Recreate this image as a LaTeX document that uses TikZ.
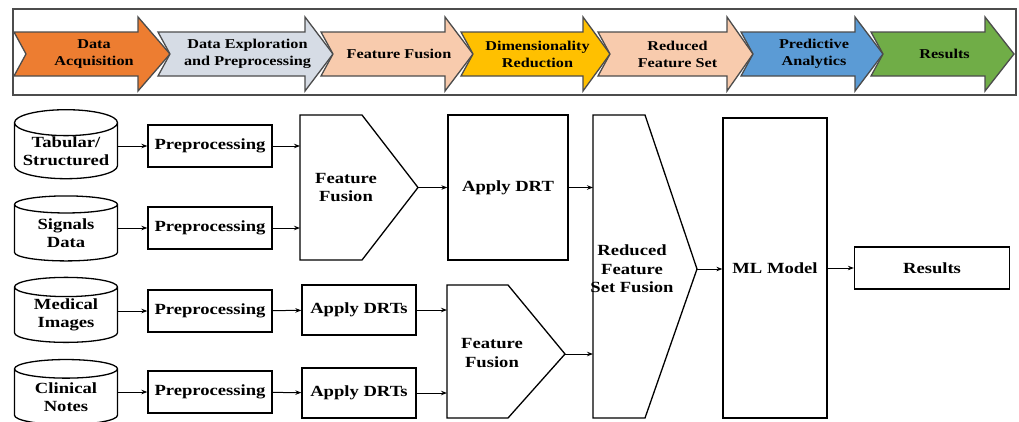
\documentclass[tikz,border=0pt]{standalone}
\usepackage{fontspec}
\setmainfont{Liberation Serif}[FakeStretch=1.2]
\usetikzlibrary{shapes.geometric, arrows.meta}

\definecolor{acqorange}{HTML}{ED7D31}
\definecolor{explgrey}{HTML}{D6DCE5}
\definecolor{fusepeach}{HTML}{F8CBAD}
\definecolor{dimyellow}{HTML}{FFC000}
\definecolor{predblue}{HTML}{5B9BD5}
\definecolor{resgreen}{HTML}{70AD47}

\begin{document}
\begin{tikzpicture}[x=1pt,y=-1pt,
  stagetxt/.style={font=\fontsize{13.5}{17}\selectfont\bfseries, align=center, inner sep=0pt},
  boxtxt/.style={font=\fontsize{15.5}{18.5}\selectfont\bfseries, align=center, inner sep=0pt},
  procbox/.style={boxtxt, draw, line width=1.3pt},
  db/.style={procbox, cylinder, shape border rotate=90, aspect=0.3, minimum width=103pt, minimum height=65pt},
  fuseshape/.style={draw, line width=1.3pt},
  flow/.style={-{Stealth[length=6pt,width=4.5pt]}, line width=1pt}]
\useasboundingbox (0,0) rectangle (1019,421);

% pipeline banner
\draw[black!70, line width=1.3pt] (13,9) rectangle (1016,95);
\foreach \xa/\xh/\xt/\col/\txt [count=\i] in {14/138/170/acqorange/{Data\\Acquisition},
    158/305/333/explgrey/{Data Exploration\\and Preprocessing},
    321/445/473/fusepeach/{Feature Fusion},
    461/583/610/dimyellow/{Dimensionality\\Reduction},
    598/727/753/fusepeach/{Reduced\\Feature Set},
    741/855/883/predblue/{Predictive\\Analytics},
    871/985/1014/resgreen/{Results}}{
  \filldraw[fill=\col, draw=black!70, line width=1.3pt] (\xa,32) -- (\xh,32) -- (\xh,17) -- (\xt,54)
    -- (\xh,91) -- (\xh,76) -- (\xa,76) -- ({\xa+12},54) -- cycle;
  \node[stagetxt] (stage\i) at ({(\xa+\xt)/2+2},54) {\txt};
}

% data sources
\node[db] (tab) at (66,151) {Tabular/\\Structured};
\node[db] (sig) at (66,233) {Signals\\Data};
\node[db] (med) at (66,315) {Medical\\Images};
\node[db] (cli) at (66,397) {Clinical\\Notes};

\node[procbox, minimum width=124pt, minimum height=42pt] (pre1) at (210,146) {Preprocessing};
\node[procbox, minimum width=124pt, minimum height=42pt] (pre2) at (210,228) {Preprocessing};
\node[procbox, minimum width=124pt, minimum height=42pt] (pre3) at (210,311) {Preprocessing};
\node[procbox, minimum width=124pt, minimum height=42pt] (pre4) at (210,392) {Preprocessing};

% fusion blocks
\draw[fuseshape] (300,115) -- (362,115) -- (418,187.5) -- (362,260) -- (300,260) -- cycle;
\node[boxtxt] (ff1) at (346,187.5) {Feature\\Fusion};
\coordinate (ff1w) at (300,187.5);
\coordinate (ff1tip) at (418,187.5);

\node[procbox, minimum width=120pt, minimum height=145pt] (drt) at (508,187.5) {Apply DRT};
\node[procbox, minimum width=114pt, minimum height=50pt] (adrt1) at (359,310) {Apply DRTs};
\node[procbox, minimum width=114pt, minimum height=50pt] (adrt2) at (359,393) {Apply DRTs};

\draw[fuseshape] (447,285) -- (508,285) -- (565,354) -- (508,418) -- (447,418) -- cycle;
\node[boxtxt] (ff2) at (492,353) {Feature\\Fusion};
\coordinate (ff2w) at (447,354);
\coordinate (ff2tip) at (565,354);

\draw[fuseshape] (593,115) -- (645,115) -- (697,269) -- (645,418) -- (593,418) -- cycle;
\node[boxtxt] (rfs) at (632,269) {Reduced\\Feature\\Set Fusion};
\coordinate (rfsw) at (593,269);
\coordinate (rfstip) at (697,269);

\node[procbox, minimum width=104pt, minimum height=300pt] (ml) at (775,268) {ML Model};
\node[procbox, minimum width=155pt, minimum height=42pt] (res) at (932,268) {Results};

% connectors
\draw[flow] (pre1 -| tab.east) -- (pre1);
\draw[flow] (pre2 -| sig.east) -- (pre2);
\draw[flow] (pre3 -| med.east) -- (pre3);
\draw[flow] (pre4 -| cli.east) -- (pre4);
\draw[flow] (pre1) -- (pre1 -| ff1w);
\draw[flow] (pre2) -- (pre2 -| ff1w);
\draw[flow] (pre3) -- (adrt1);
\draw[flow] (pre4) -- (adrt2);
\draw[flow] (ff1tip) -- (drt);
\draw[flow] (adrt1) -- (adrt1 -| ff2w);
\draw[flow] (adrt2) -- (adrt2 -| ff2w);
\draw[flow] (drt) -- (drt -| rfsw);
\draw[flow] (ff2tip) -- (ff2tip -| rfsw);
\draw[flow] (rfstip) -- (rfstip -| ml.west);
\draw[flow] (ml) -- (res);
\end{tikzpicture}
\end{document}
